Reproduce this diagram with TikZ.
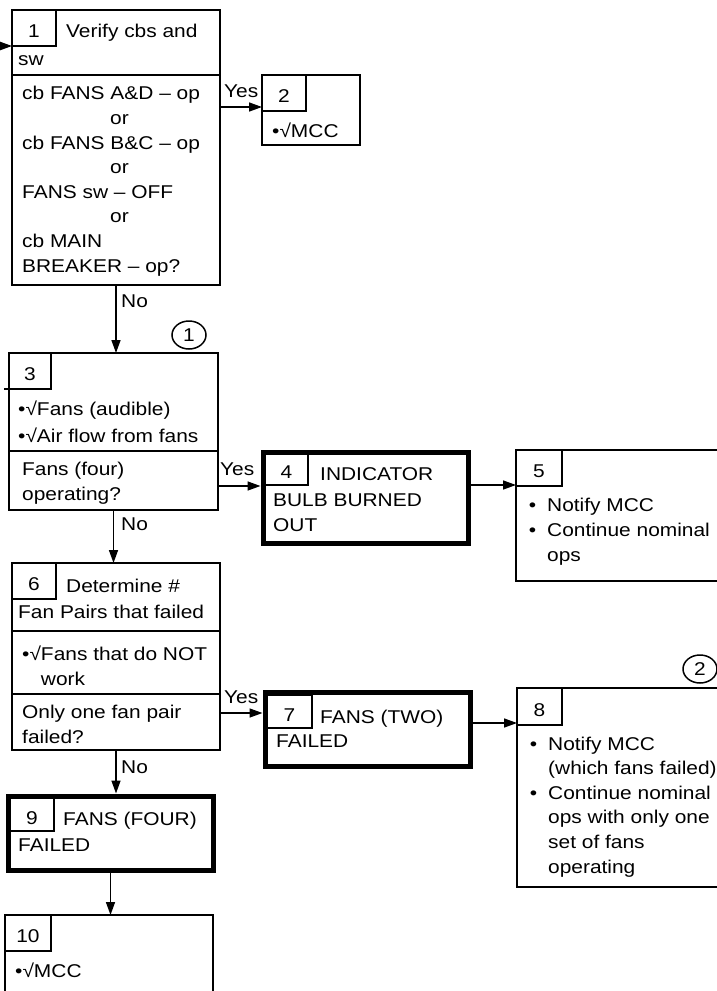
\documentclass[tikz,border=0pt]{standalone}
\usepackage{fontspec}
\setmainfont{Liberation Sans}[FakeStretch=1.13]
\usetikzlibrary{arrows.meta,shapes.geometric}
\newcommand{\chartfont}{\fontsize{18.5pt}{24.6pt}\selectfont}
\newcommand{\chk}{•√}
\newcommand{\bul}{\llap{•\hspace{11pt}}}
\tikzset{
    %Define standard arrow tip
    >={Triangle[length=13pt,width=9pt]},
    %Define style for boxes
    stepbox/.style={
           rectangle,
           draw=black, line width=2pt,
           inner sep=0pt, outer sep=0pt,
           anchor=north west},
    endbox/.style={
           stepbox,
           line width=5pt},
    numbox/.style={
           rectangle,
           draw=black, line width=1.3pt,
           inner sep=0pt, outer sep=0pt,
           anchor=north west,
           minimum width=44pt,
           minimum height=36pt,
           text height=19pt, text depth=0pt},
    % text is placed at the baseline of its last line
    txt/.style={
           anchor=base west,
           inner sep=0pt,
           align=left},
    tag/.style={
           ellipse,
           draw=black, line width=1.5pt,
           minimum width=34pt,
           minimum height=28pt,
           inner sep=0pt},
    % Define arrow style
    pil/.style={
           ->,
           line width=1.5pt}
}
\begin{document}
\begin{tikzpicture}[x=1pt,y=-1pt,font=\chartfont]
\useasboundingbox (0,0) rectangle (717,991);
\clip (0,0) rectangle (717,991);
% boxes
\node[stepbox, minimum width=208pt, minimum height=275pt] (b1) at (12,10) {};
\node[stepbox, minimum width=98pt, minimum height=70pt] (b2) at (262,75) {};
\node[stepbox, minimum width=209pt, minimum height=157pt] (b3) at (9,353) {};
\node[endbox, minimum width=205pt, minimum height=91pt] (b4) at (263,452) {};
\node[stepbox, minimum width=220pt, minimum height=131pt] (b5) at (516,450) {};
\node[stepbox, minimum width=208pt, minimum height=187pt] (b6) at (12,563) {};
\node[endbox, minimum width=205pt, minimum height=74pt] (b7) at (265,692) {};
\node[stepbox, minimum width=220pt, minimum height=199pt] (b8) at (517,688) {};
\node[endbox, minimum width=205pt, minimum height=74pt] (b9) at (8,796) {};
\node[stepbox, minimum width=208pt, minimum height=100pt] (b10) at (5,915) {};
% dividers
\draw[line width=2pt] (b1.west |- 0,75) -- (b1.east |- 0,75);
\draw[line width=2pt] (b3.west |- 0,451) -- (b3.east |- 0,451);
\draw[line width=2pt] (b6.west |- 0,631) -- (b6.east |- 0,631);
\draw[line width=2pt] (b6.west |- 0,694) -- (b6.east |- 0,694);
% step numbers
\node[numbox] (n1) at (12,10) {1};
\node[numbox] (n2) at (262,75) {2};
\node[numbox, minimum width=42pt] (n3) at (9,353) {3};
\node[numbox, minimum width=43pt, minimum height=33pt] (n4) at (265,452) {4};
\node[numbox, minimum width=46pt] (n5) at (516,450) {5};
\node[numbox] (n6) at (12,563) {6};
\node[numbox, minimum width=45pt, minimum height=33pt] (n7) at (267,695) {7};
\node[numbox, minimum width=45pt, minimum height=37pt] (n8) at (517,688) {8};
\node[numbox, minimum height=33pt] (n9) at (10,798) {9};
\node[numbox, minimum width=46pt] (n10) at (5,915) {10};
\node[tag] (c1) at (189,335) {1};
\node[tag] (c2) at (700,669) {2};
% texts
\node[txt] (t1a) at (66,37) {Verify cbs and};
\node[txt] (t1b) at (18,65) {sw};
\node[txt] (t1c) at (22,272) {cb FANS A\&D -- op\\\hspace{88pt}or\\cb FANS B\&C -- op\\\hspace{88pt}or\\FANS sw -- OFF\\\hspace{88pt}or\\cb MAIN\\BREAKER -- op?};
\node[txt] (t2) at (272,137) {\chk MCC};
\node[txt] (t3a) at (18,415) {\chk Fans (audible)};
\node[txt] (t3b) at (18,442) {\chk Air flow from fans};
\node[txt] (t3c) at (22,500) {Fans (four)\\operating?};
\node[txt] (t4a) at (320,480) {INDICATOR};
\node[txt] (t4b) at (273,531) {BULB BURNED\\OUT};
\node[txt] (t5) at (547,561) {\bul Notify MCC\\\bul Continue nominal\\ops};
\node[txt] (t6a) at (66,592) {Determine \#};
\node[txt] (t6b) at (18,618) {Fan Pairs that failed};
\node[txt] (t6c) at (22,685) {\chk Fans that do NOT\\\hphantom{\chk}work};
\node[txt] (t6d) at (22,743) {Only one fan pair\\failed?};
\node[txt] (t7a) at (320,723) {FANS (TWO)};
\node[txt] (t7b) at (276,747) {FAILED};
\node[txt] (t8) at (548,873) {\bul Notify MCC\\(which fans failed)\\\bul Continue nominal\\ops with only one\\set of fans\\operating};
\node[txt] (t9a) at (63,825) {FANS (FOUR)};
\node[txt] (t9b) at (18,851) {FAILED};
\node[txt] (t10) at (15,977) {\chk MCC};
% answers
\node[txt] (y1) at (224,97) {Yes};
\node[txt] (y3) at (220,475) {Yes};
\node[txt] (y6) at (224,703) {Yes};
\node[txt] (no1) at (121,307) {No};
\node[txt] (no3) at (121,530) {No};
\node[txt] (no6) at (121,773) {No};
% connectors
\coordinate (in1) at (-4,46);
\coordinate (in3) at (4,389);
\draw[pil] (in1) -- (in1 -| b1.west);
\draw[line width=1.3pt] (in3) -- (in3 -| b3.west);
\draw[pil] (b1.south) -- (b1.south |- b3.north);
\draw[pil] (b3.south) -- (b3.south |- b6.north);
\draw[pil, shorten >=2.5pt] (b6.south) -- (b6.south |- b9.north);
\draw[pil] (b9.south) -- (b9.south |- b10.north);
\draw[pil] (b1.east |- 0,107) -- (b2.west |- 0,107);
\draw[pil, shorten >=2.5pt] (b3.east |- 0,486) -- (b4.west |- 0,486);
\draw[pil] (b4.east |- 0,485) -- (b5.west |- 0,485);
\draw[pil, shorten >=2.5pt] (b6.east |- 0,713) -- (b7.west |- 0,713);
\draw[pil] (b7.east |- 0,723) -- (b8.west |- 0,723);
\end{tikzpicture}
\end{document}
